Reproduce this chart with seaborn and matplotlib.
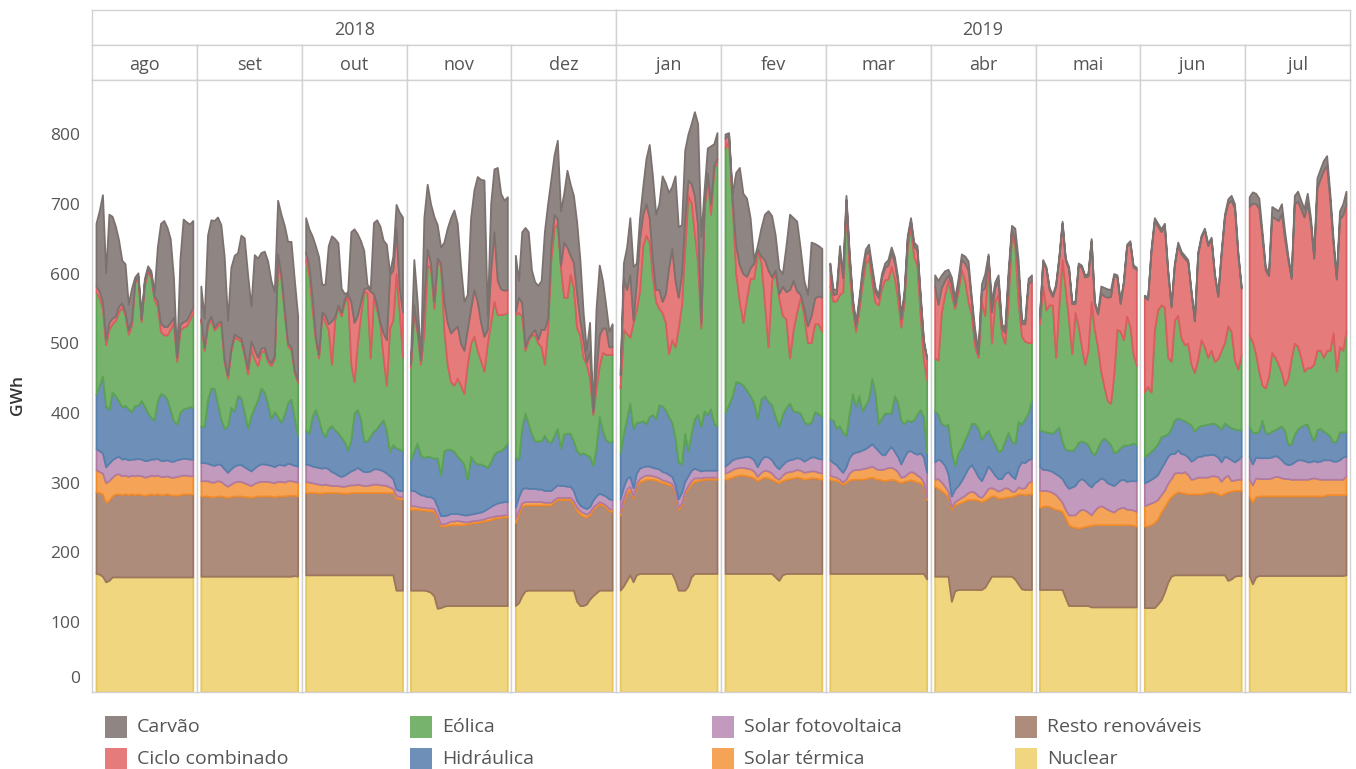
import numpy as np
import pandas as pd
import matplotlib
matplotlib.use("Agg")
import matplotlib.pyplot as plt
from matplotlib.patches import Rectangle
import seaborn as sns

# ---------------------------------------------------------------- data
months = ["ago", "set", "out", "nov", "dez", "jan", "fev", "mar", "abr", "mai", "jun", "jul"]
years = ["2018", "2019"]
months_per_year = [5, 7]
yticks = [0, 100, 200, 300, 400, 500, 600, 700, 800]

# daily generation (GWh), one list per month
nuclear = [
    [170,169,166,158,160,165,165,165,165,165,165,165,165,165,165,165,165,165,165,165,165,165,165,165,165,165,165,165,165,165,165],
    [166,166,166,166,166,166,166,166,166,166,166,166,166,166,166,166,166,166,166,166,166,166,166,166,166,166,166,166,167,166],
    [168,168,168,168,168,168,168,168,168,168,168,168,168,168,168,168,168,168,168,168,168,168,168,168,168,168,168,168,146,146,146],
    [146,146,146,146,146,145,143,138,120,121,123,124,124,124,124,124,124,124,124,124,124,124,124,124,124,124,124,124,124,124],
    [124,128,138,145,146,146,146,146,146,146,146,146,146,146,146,146,146,146,146,130,124,124,126,133,138,142,146,146,146,146,146],
    [146,152,160,168,158,168,170,170,170,170,170,170,170,170,170,170,170,160,146,146,146,152,165,170,170,170,170,170,170,170,170],
    [170,170,170,170,170,170,170,170,170,170,170,170,170,170,165,160,168,170,170,170,170,170,170,170,170,170,170,170],
    [170,170,170,170,170,170,170,170,170,170,170,170,170,170,170,170,170,170,170,170,170,170,170,170,170,170,170,170,170,170,162],
    [166,166,166,166,166,130,145,147,147,147,147,147,147,147,147,150,158,166,166,166,166,166,166,166,162,155,148,147,147,147],
    [147,147,147,147,147,147,147,147,135,124,124,124,124,124,124,124,122,122,122,122,122,122,122,122,122,122,122,122,122,122,122],
    [121,121,121,121,126,132,143,157,166,168,168,168,168,168,168,168,168,168,168,168,168,168,168,168,168,160,162,166,167,167],
    [167,155,165,167,167,167,167,167,167,167,167,167,167,167,167,167,167,167,167,167,167,167,167,167,167,167,167,167,167,167,168],
]
resto = [
    [117,117,118,114,115,116,119,119,118,119,118,119,118,119,118,117,118,119,118,119,118,118,119,118,117,117,118,119,119,119,119],
    [115,115,115,114,114,115,115,114,113,114,115,115,115,114,114,113,114,115,115,115,115,115,114,115,115,115,116,116,115,115],
    [118,118,118,118,117,117,118,118,118,118,118,117,117,117,118,118,118,118,118,118,118,118,118,118,118,118,118,118,132,131,131],
    [116,116,116,115,115,115,117,121,130,117,115,115,116,116,116,116,116,117,118,119,119,120,121,122,123,125,126,126,127,127],
    [119,127,128,123,122,122,122,122,122,122,122,122,127,130,130,130,130,130,124,130,131,128,125,121,124,124,124,122,119,114,113],
    [108,121,125,122,120,127,131,133,135,135,135,134,132,130,129,127,126,125,116,122,139,140,133,132,133,134,135,135,135,135,135],
    [135,136,138,140,141,141,140,139,137,133,136,138,137,135,137,140,135,135,136,137,138,137,135,136,137,137,136,135],
    [135,134,133,131,128,130,134,135,135,135,135,136,137,138,136,135,134,133,134,135,134,132,130,132,133,134,133,131,130,125,114],
    [129,126,123,119,114,132,123,123,125,127,129,129,129,128,126,125,120,115,115,112,112,113,114,114,120,129,136,136,137,137],
    [118,119,120,119,117,115,114,112,115,116,113,112,111,112,113,114,117,118,118,118,118,118,118,118,118,118,118,118,118,117,116],
    [117,117,119,122,122,126,122,117,114,116,119,118,117,116,116,116,116,116,117,118,119,118,116,114,117,127,126,123,122,122],
    [114,117,115,114,114,114,114,114,114,114,114,114,114,114,114,114,114,114,114,114,114,114,114,114,116,116,116,116,116,116,115],
]
solar_termica = [
    [32,30,30,28,28,27,28,29,27,27,26,27,27,27,27,26,26,27,27,27,26,26,26,25,26,27,27,27,27,26,26],
    [22,22,22,21,21,22,21,18,16,18,20,21,21,20,18,17,19,20,21,21,21,20,20,21,21,20,21,21,20,20],
    [16,15,14,13,13,12,12,11,10,10,10,10,10,11,11,11,12,11,10,10,11,12,12,11,11,10,8,6,4,3,3],
    [5,5,4,4,4,4,4,4,4,3,3,4,5,5,6,5,4,3,3,3,3,3,3,4,4,3,3,3,3,3],
    [6,5,5,5,5,5,5,5,5,4,4,4,3,3,3,3,3,3,4,5,5,5,4,4,3,3,3,3,3,3,3],
    [3,5,6,5,3,4,5,6,6,6,5,5,5,4,4,4,3,3,3,3,3,4,5,5,4,3,3,3,3,3,3],
    [9,10,11,11,11,11,11,11,10,6,9,10,10,9,6,5,8,10,10,10,11,11,10,10,10,10,9,9],
    [6,5,5,4,3,5,10,13,14,14,15,15,15,16,15,14,15,17,18,17,16,14,8,7,10,12,12,10,8,6,3],
    [10,14,12,10,8,3,5,6,7,8,10,12,10,6,6,10,14,12,10,10,12,14,12,8,6,10,8,10,16,19],
    [24,23,22,22,22,21,17,13,12,14,17,18,24,26,24,20,15,20,25,27,25,22,20,18,22,24,25,22,22,22,21],
    [29,31,31,30,28,25,24,25,26,30,28,28,31,28,21,22,24,24,23,22,23,24,25,20,23,24,15,15,16,16],
    [24,25,27,25,25,25,25,26,28,28,26,25,25,24,24,24,24,24,24,25,26,25,24,24,22,22,22,22,22,22,27],
]
solar_fv = [
    [30,30,29,23,25,25,24,25,24,24,24,23,24,24,24,24,23,23,24,24,23,23,23,23,23,24,24,24,24,24,24],
    [26,26,25,25,24,24,24,22,20,22,23,24,24,23,22,21,22,24,25,25,24,24,23,24,24,24,25,24,23,23],
    [25,25,24,24,24,24,24,23,20,18,15,14,16,18,20,22,24,22,20,20,20,22,22,22,20,18,16,14,9,9,9],
    [22,22,20,18,17,16,16,14,12,12,12,11,11,11,10,10,10,10,10,10,11,11,12,13,15,17,18,19,19,19],
    [16,20,20,20,19,19,19,18,18,17,17,17,17,18,17,17,16,16,15,10,8,8,8,8,10,12,12,12,13,14,14],
    [20,16,15,14,12,15,15,14,13,13,12,12,13,12,12,11,10,10,12,15,14,14,15,14,12,10,10,10,10,10,10],
    [10,12,14,14,14,15,17,17,16,14,18,20,20,19,17,15,15,16,17,17,17,17,16,18,20,20,20,20],
    [22,20,18,15,14,18,22,24,25,26,27,28,30,32,30,27,22,20,25,30,25,22,19,28,32,30,28,30,35,36,36],
    [25,28,30,30,25,16,18,20,24,30,35,38,32,28,24,28,32,25,20,18,16,20,24,22,18,28,38,36,33,32],
    [35,30,30,30,30,30,32,34,36,38,40,42,44,44,42,40,40,40,38,40,40,38,38,38,38,40,40,40,41,42,44],
    [33,33,34,35,36,38,40,39,36,28,32,28,25,25,26,28,30,30,32,32,31,30,28,28,30,25,30,26,28,33],
    [33,30,30,30,30,30,30,30,30,28,26,22,20,22,25,28,28,27,25,24,25,24,26,28,28,28,26,26,28,32,28],
]
hidraulica = [
    [78,94,110,87,77,97,89,79,75,76,73,68,77,76,84,78,68,60,56,83,96,94,87,74,58,51,67,71,72,75,74],
    [52,52,91,110,110,87,66,58,67,88,79,99,96,79,58,79,87,94,109,103,88,67,79,69,61,73,87,93,68,44],
    [49,45,71,82,69,53,44,58,66,62,61,56,48,33,45,81,83,73,44,44,50,54,58,66,73,61,35,49,59,59,57],
    [44,56,71,57,54,58,57,58,70,58,93,94,92,89,82,78,73,51,83,74,70,69,65,59,64,72,74,74,77,84],
    [73,53,89,107,93,78,68,69,69,79,71,69,75,81,54,74,76,76,71,71,73,78,77,72,50,69,110,92,81,81,84],
    [66,77,86,105,85,73,66,66,61,71,76,71,92,94,90,83,78,67,53,41,69,36,53,71,79,64,85,80,88,67,63],
    [76,84,92,110,108,103,95,88,82,69,87,87,80,79,70,61,72,77,81,69,66,65,57,50,50,65,64,61],
    [59,61,52,62,57,45,64,86,66,80,56,63,68,94,79,39,52,60,53,48,80,77,63,48,45,42,47,57,62,58,28],
    [73,64,54,57,71,64,34,47,47,50,51,59,67,69,59,57,51,47,45,39,41,47,56,50,50,66,54,63,67,84],
    [52,55,54,54,55,62,70,54,50,55,52,54,55,54,55,57,51,40,47,53,59,60,57,47,45,46,49,52,52,54,51],
    [38,39,40,42,44,45,39,32,36,48,46,49,48,49,52,40,42,44,43,44,44,45,45,47,48,46,46,47,43,38],
    [43,45,35,38,54,36,35,37,37,42,48,47,29,29,40,44,48,51,54,40,28,46,47,41,38,34,27,29,40,36,35],
]
eolica = [
    [147,125,97,88,115,98,108,128,143,129,107,124,176,182,113,175,202,201,173,135,89,86,92,115,140,90,118,117,118,125,136],
    [150,109,106,99,84,111,136,95,68,81,106,81,81,81,78,97,70,49,51,60,60,76,76,225,206,146,81,71,65,76],
    [244,227,155,100,88,169,164,142,88,159,180,174,200,222,108,45,95,148,215,212,112,192,170,143,90,65,177,178,250,197,134],
    [132,203,158,130,179,274,271,215,282,301,174,122,97,95,112,107,101,165,162,180,163,148,135,178,200,219,196,195,192,187],
    [203,211,159,90,120,142,152,140,135,102,160,262,297,294,259,196,195,228,220,176,171,137,130,112,73,86,73,112,122,126,124],
    [93,149,122,95,152,161,188,251,270,250,197,168,138,134,125,90,118,130,192,228,265,366,330,266,217,141,287,341,279,365,380],
    [380,378,275,155,116,90,132,168,178,238,198,135,78,178,205,184,142,127,65,117,143,166,152,117,114,126,129,122],
    [190,170,183,188,202,330,204,122,107,122,181,203,202,139,129,170,186,191,192,210,169,149,133,175,250,279,234,214,135,82,105],
    [76,78,160,188,206,225,225,232,255,228,188,155,110,102,198,170,245,135,204,225,168,140,188,295,284,172,126,111,101,82],
    [152,208,175,183,184,105,175,260,229,188,139,194,167,135,112,135,215,180,145,100,74,58,59,112,175,167,151,185,170,128,114],
    [92,97,85,170,192,189,184,110,96,143,147,117,109,114,87,84,98,123,112,96,105,89,96,113,115,143,138,99,87,108],
    [131,130,113,86,50,64,81,113,104,91,77,65,95,122,130,119,99,77,81,95,110,114,112,106,119,123,157,100,122,117,144],
]
ciclo_combinado = [
    [8,10,10,8,10,8,6,8,6,5,6,6,3,3,4,4,4,4,5,8,12,12,12,10,8,6,8,8,8,8,8],
    [4,4,5,4,4,4,4,4,4,4,4,4,4,4,8,10,14,12,6,4,4,4,4,8,6,4,4,4,3,3],
    [11,12,16,5,5,2,10,8,62,3,3,5,5,2,90,85,40,20,3,8,96,5,7,2,35,65,76,72,65,35,65],
    [5,7,5,6,45,23,7,10,4,3,40,60,70,80,75,60,62,50,50,67,70,55,50,20,74,100,49,37,34,33],
    [4,22,19,5,3,2,8,6,25,50,15,20,20,6,3,79,72,27,36,50,21,25,3,40,4,26,44,35,38,11,11],
    [19,73,63,89,3,40,75,45,45,35,25,17,27,16,41,124,131,95,44,45,44,22,28,54,54,8,10,5,15,5,4],
    [14,9,7,40,52,70,31,15,22,5,7,60,110,5,5,6,42,39,98,70,30,4,10,24,39,37,40,49],
    [25,10,10,60,20,8,20,10,8,12,15,12,12,15,15,10,15,18,20,20,22,25,12,10,10,8,15,22,25,25,30],
    [103,80,35,20,8,15,5,10,15,25,45,20,12,5,15,40,5,45,20,20,8,15,35,8,8,45,18,25,85,88],
    [9,35,59,22,12,102,67,52,42,72,72,13,87,114,125,107,87,37,47,112,130,148,153,142,75,40,82,100,119,124,138],
    [136,125,202,156,120,105,116,122,78,79,101,120,124,117,102,74,150,147,167,160,159,123,89,138,180,176,188,218,164,95],
    [184,199,215,234,212,169,145,195,199,206,228,210,170,115,200,208,213,221,236,207,152,233,246,268,265,215,127,132,183,194,183],
]
carvao = [
    [90,115,153,95,155,146,129,95,61,69,37,47,5,5,2,4,5,5,5,77,143,152,142,120,57,2,94,147,141,129,124],
    [47,42,125,138,153,152,138,147,79,116,113,120,148,164,135,50,135,142,137,138,140,118,92,77,86,121,146,151,130,92],
    [49,54,88,130,140,39,45,112,122,112,89,35,7,3,100,134,117,87,55,5,3,102,122,138,133,137,3,20,34,108,136],
    [10,65,40,2,120,93,85,122,48,23,85,135,165,171,147,110,70,50,130,143,179,205,224,20,96,90,162,137,129,133],
    [81,24,102,171,152,91,68,77,70,140,165,95,85,113,78,70,110,102,96,102,87,40,17,40,3,88,100,68,33,22,33],
    [7,22,61,82,77,27,30,40,65,105,120,108,123,180,159,107,89,150,101,70,97,66,86,120,146,123,20,36,83,31,37],
    [6,3,8,105,140,115,112,72,5,5,40,65,85,88,50,36,18,66,108,90,100,65,40,45,105,78,72,70],
    [8,8,6,10,6,6,6,5,5,6,8,8,8,6,6,5,6,6,8,8,8,6,5,5,5,5,6,6,5,3,2],
    [16,34,18,14,8,10,10,8,8,10,13,5,13,5,10,20,3,15,8,8,5,7,9,6,17,15,5,5,7,9],
    [3,3,3,3,3,3,3,3,3,3,3,3,3,3,3,3,3,3,3,10,12,12,10,3,3,3,3,3,3,3,3],
    [3,3,3,4,4,4,4,3,3,3,4,4,4,3,3,3,3,3,3,3,3,3,3,3,4,6,7,6,4,3],
    [14,16,15,14,8,5,3,14,14,14,14,10,5,3,12,14,12,12,14,8,4,14,14,14,14,10,8,3,12,16,18],
]

# stacking order (bottom -> top) and styling
layers = [
    ("Nuclear", nuclear, "#f1d680", "#e6c65e"),
    ("Resto renováveis", resto, "#ad8c7b", "#9c755f"),
    ("Solar térmica", solar_termica, "#f5a356", "#f08c2c"),
    ("Solar fotovoltaica", solar_fv, "#c29abd", "#b07aa1"),
    ("Hidráulica", hidraulica, "#6e90b8", "#5580ad"),
    ("Eólica", eolica, "#77b36d", "#5ca353"),
    ("Ciclo combinado", ciclo_combinado, "#e67b7c", "#dc5d5f"),
    ("Carvão", carvao, "#8f8583", "#7b716f"),
]
legend_order = ["Carvão", "Ciclo combinado", "Eólica", "Hidráulica",
                "Solar fotovoltaica", "Solar térmica", "Resto renováveis", "Nuclear"]

# long-form table of every daily value
rows = []
for name, values, _, _ in layers:
    for mi, month_vals in enumerate(values):
        for day, v in enumerate(month_vals):
            rows.append((months[mi], mi, day, name, v))
df = pd.DataFrame(rows, columns=["mes", "mes_idx", "dia", "fonte", "gwh"])

# ---------------------------------------------------------------- style
sns.set_theme(style="white")
plt.rcParams["font.family"] = ["Open Sans", "DejaVu Sans"]
border = "#d2d2d2"
text_col = "#555555"

W, H = 1356, 769
fig = plt.figure(figsize=(W / 100, H / 100), dpi=100)
fig.patch.set_facecolor("white")

X0, X1 = 92, 1350
Y_HDR_TOP, Y_HDR_MID, Y_PANEL_TOP, Y_PANEL_BOT = 10, 45, 80, 692
pw = (X1 - X0) / 12
px_per_gwh = (Y_PANEL_BOT - 134) / 800.0
ymax = (Y_PANEL_BOT - Y_PANEL_TOP) / px_per_gwh


def fig_rect(left, top, right, bottom):
    return [left / W, 1 - bottom / H, (right - left) / W, (bottom - top) / H]


def header_cell(left, top, right, bottom, label, size):
    hax = fig.add_axes(fig_rect(left, top, right, bottom))
    hax.set_xticks([])
    hax.set_yticks([])
    hax.set_facecolor("white")
    for s in hax.spines.values():
        s.set_visible(True)
        s.set_color(border)
        s.set_linewidth(1.0)
    hax.text(0.5, 0.44, label, ha="center", va="center", transform=hax.transAxes,
             fontsize=size, color=text_col)
    return hax


# year row
start = 0
for yr, cnt in zip(years, months_per_year):
    header_cell(X0 + start * pw, Y_HDR_TOP, X0 + (start + cnt) * pw, Y_HDR_MID, yr, 13)
    start += cnt

# month panels
for mi, m in enumerate(months):
    left = X0 + mi * pw
    header_cell(left, Y_HDR_MID, left + pw, Y_PANEL_TOP, m, 13)

    ax = fig.add_axes(fig_rect(left, Y_PANEL_TOP, left + pw, Y_PANEL_BOT))
    sub = df[df["mes_idx"] == mi].pivot(index="dia", columns="fonte", values="gwh")
    n = len(sub)
    days = sub.index.values
    base = np.zeros(n)
    for z, (name, _, fill, edge) in enumerate(layers):
        top = base + sub[name].values
        ax.fill_between(days, base, top, facecolor=fill, edgecolor=edge,
                        linewidth=1.3, zorder=2 + z)
        base = top

    margin = (n - 1) * 4.0 / (pw - 8)
    ax.set_xlim(-margin, n - 1 + margin)
    ax.set_ylim(0, ymax)
    ax.set_xticks([])
    ax.grid(False)
    ax.set_facecolor("white")
    for s in ax.spines.values():
        s.set_visible(True)
        s.set_color(border)
        s.set_linewidth(1.0)
    if mi == 0:
        ax.set_yticks(yticks)
        ax.set_yticklabels([""] + [str(t) for t in yticks[1:]])
        ax.tick_params(axis="y", length=0, pad=8.5, labelsize=12.5, labelcolor=text_col)
    else:
        ax.set_yticks([])

# zero label sits a little above the baseline
fig.text(80 / W, 1 - 679 / H, "0", ha="right", va="center", fontsize=12.5, color=text_col)
fig.text(18 / W, 1 - 395 / H, "GWh", rotation=90, ha="center", va="center",
         fontsize=12.5, color="#333333", fontweight="semibold")

# legend: four columns, two rows
fills = {name: fill for name, _, fill, _ in layers}
col_x = [105, 410, 712, 1015]
row_y = [727, 759]
for k, name in enumerate(legend_order):
    cx = col_x[k // 2]
    cy = row_y[k % 2]
    fig.add_artist(Rectangle((cx / W, 1 - (cy + 11) / H), 22 / W, 22 / H,
                             transform=fig.transFigure, facecolor=fills[name],
                             edgecolor="none"))
    fig.text((cx + 32) / W, 1 - cy / H, name, ha="left", va="center",
             fontsize=14, color=text_col)

fig.savefig("out.png", dpi=100, facecolor="white")
